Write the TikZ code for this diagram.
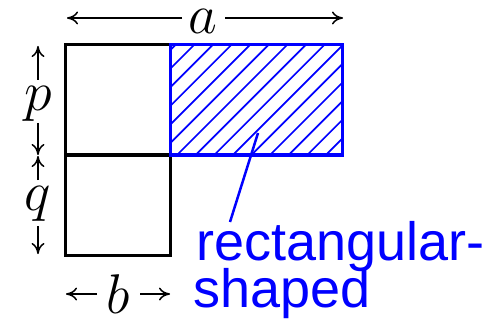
\documentclass[tikz,border=0pt]{standalone}
\usepackage{fontspec}
\usetikzlibrary{arrows.meta}
\newfontfamily\labelfont{Liberation Sans}
\definecolor{pureblue}{RGB}{0,0,255}
\begin{document}
\begin{tikzpicture}[x=1pt,y=-1pt,
  outline/.style={line width=3pt, draw=black},
  bluebox/.style={line width=3pt, draw=pureblue},
  hatch/.style={line width=1.7pt, draw=pureblue},
  dimarrow/.style={line width=1.5pt, -{To[length=11pt,width=13pt]}},
  dimlabel/.style={inner sep=0pt, font=\Huge, scale=2.25},
  leader/.style={line width=2.5pt, draw=pureblue},
  notelabel/.style={inner sep=0pt, text=pureblue, anchor=base west,
    font=\labelfont\fontsize{54}{54}\selectfont}]
\useasboundingbox (0,0) rectangle (497,323);
% corners
\coordinate (TL) at (65,45);
\coordinate (TM) at (170,45);
\coordinate (TR) at (342,45);
\coordinate (ML) at (65,155);
\coordinate (MM) at (170,155);
\coordinate (MR) at (342,155);
\coordinate (BL) at (65,255);
\coordinate (BM) at (170,255);
% black squares
\draw[outline] (TL) rectangle (MM);
\draw[outline] (ML) rectangle (BM);
% hatching
\begin{scope}
  \clip (TM) rectangle (MR);
  \foreach \k in {-2,...,16} {
    \pgfmathsetmacro{\c}{239+18.6*\k}
    \draw[hatch] (\c-45,45) -- (\c-155,155);
  }
\end{scope}
\draw[bluebox] (TM) rectangle (MR);
% dimension a
\node[dimlabel] (a) at (203,21) {$a$};
\coordinate (aL) at (67,18);
\coordinate (aR) at (343,18);
\coordinate (aL0) at (182,18);
\coordinate (aR0) at (225,18);
\draw[dimarrow] (aL0) -- (aL);
\draw[dimarrow] (aR0) -- (aR);
% dimension p
\node[dimlabel] (p) at (38,104) {$p$};
\coordinate (pT) at (38,46);
\coordinate (pB) at (38,155);
\coordinate (pT0) at (38,80);
\coordinate (pB0) at (38,123);
\draw[dimarrow] (pT0) -- (pT);
\draw[dimarrow] (pB0) -- (pB);
% dimension q
\node[dimlabel] (q) at (38,204) {$q$};
\coordinate (qT) at (38,156);
\coordinate (qB) at (38,254);
\coordinate (qT0) at (38,180);
\coordinate (qB0) at (38,226);
\draw[dimarrow] (qT0) -- (qT);
\draw[dimarrow] (qB0) -- (qB);
% dimension b
\node[dimlabel] (b) at (118,294) {$b$};
\coordinate (bL) at (66,294);
\coordinate (bR) at (170,294);
\coordinate (bL0) at (97,294);
\coordinate (bR0) at (140,294);
\draw[dimarrow] (bL0) -- (bL);
\draw[dimarrow] (bR0) -- (bR);
% label
\node[notelabel] (note1) at (196,260) {rectangular-};
\node[notelabel] (note2) at (193,307) {shaped};
\coordinate (lead) at (258,133);
\coordinate (leadend) at (230,222);
\draw[leader] (lead) -- (leadend);
\end{tikzpicture}
\end{document}
